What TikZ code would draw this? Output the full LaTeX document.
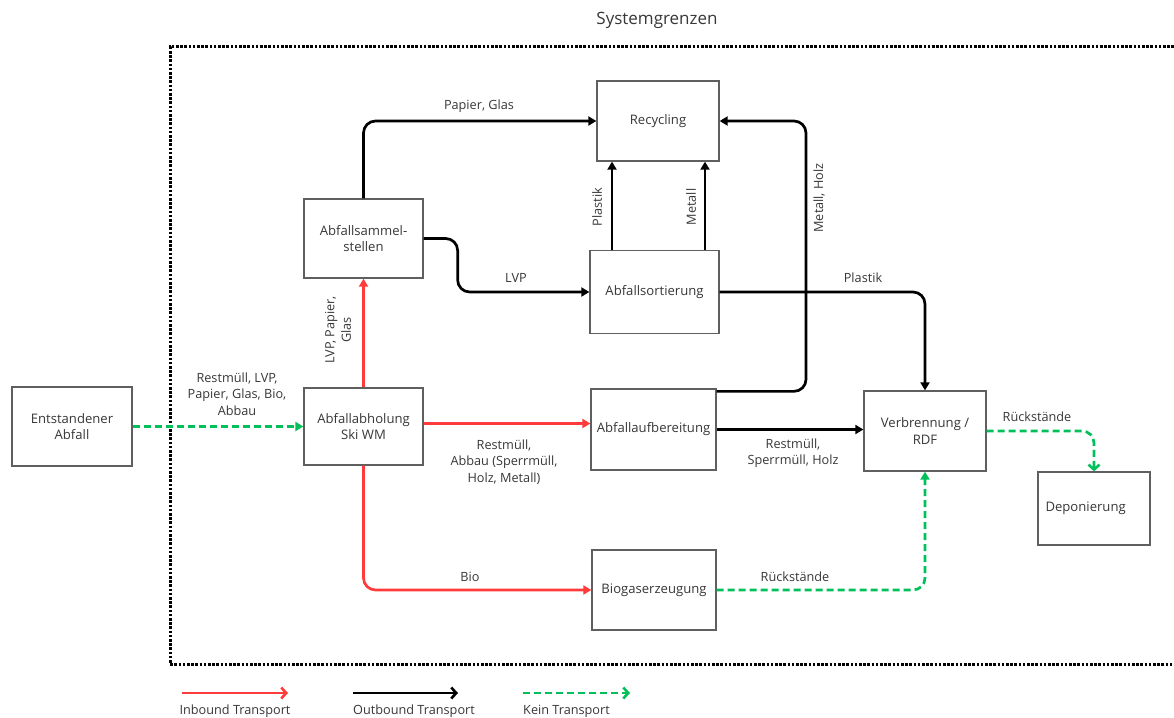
\documentclass[tikz,border=0pt]{standalone}
\usepackage{fontspec}
\setmainfont{Open Sans}
\usetikzlibrary{arrows.meta,calc}
\definecolor{inred}{RGB}{255,59,59}
\definecolor{kgreen}{RGB}{0,192,90}
\definecolor{txt}{RGB}{55,55,55}
\definecolor{boxline}{RGB}{95,95,95}
\tikzset{
  box/.style={draw=boxline, line width=1.3pt, fill=white, text=txt, align=center, inner sep=2pt, font=\fontsize{13.1}{16.5}\selectfont},
  lbl/.style={text=txt, align=center, inner sep=1pt, font=\fontsize{12.7}{16.5}\selectfont},
  inb/.style={draw=inred, line width=2.7pt, -{Triangle[length=8pt,width=9pt]}},
  outb/.style={draw=black, line width=2.7pt, -{Triangle[length=8pt,width=9pt]}},
  kein/.style={draw=kgreen, line width=2.7pt, dash pattern=on 7pt off 4pt, -{Triangle[length=8pt,width=9pt]}},
  barb/.style={-{Straight Barb[length=5pt,width=11pt,line width=2.6pt]}},
  border/.style={draw=black, line width=3pt, dash pattern=on 2.6pt off 1.6pt},
}
\begin{document}
\begin{tikzpicture}[x=1pt,y=-1pt]
\useasboundingbox (0,0) rectangle (1174,717);
% system boundary
\draw[border] (1174,47) -| (170,664) -- (1174,664);
\node[lbl, font=\fontsize{17}{20}\selectfont] (sys) at (657,20) {Systemgrenzen};
% boxes
\node[box, minimum width=120pt, minimum height=79pt] (ent) at (72,426.5) {Entstandener\\Abfall};
\node[box, minimum width=119pt, minimum height=77pt] (abh) at (363.5,426.5) {Abfallabholung\\Ski WM};
\node[box, minimum width=119pt, minimum height=79pt] (sam) at (363.5,238.5) {Abfallsammel-\\stellen};
\node[box, minimum width=122pt, minimum height=80pt] (rec) at (658,121) {Recycling};
\node[box, minimum width=129pt, minimum height=83pt] (sort) at (654.5,292) {Abfallsortierung};
\node[box, minimum width=125pt, minimum height=81pt] (aufb) at (653.5,429.5) {Abfallaufbereitung};
\node[box, minimum width=122pt, minimum height=80pt] (verb) at (925,431) {Verbrennung /\\RDF};
\node[box, minimum width=112pt, minimum height=73pt] (dep) at (1094,508.5) {};
\node[lbl, font=\fontsize{13.1}{16.5}\selectfont, anchor=west] (deptxt) at ([xshift=7pt]dep.west) {Deponierung};
\node[box, minimum width=124pt, minimum height=80pt] (bio) at (654,590) {Biogaserzeugung};
% connectors
\draw[kein] (ent) -- (abh);
\draw[inb] (abh) -- (sam);
\draw[inb] ([yshift=3pt]abh.east) -- ([yshift=3pt]abh.east -| aufb.west);
\draw[inb, rounded corners=12pt] (abh.south) |- (bio.west);
\draw[outb, rounded corners=12pt] (sam.north) |- (rec.west);
\draw[outb, rounded corners=12pt] (sam.east) -| ([xshift=34pt]sam.east |- sort.west) -- (sort.west);
\draw[outb] ([xshift=-42.5pt]sort.north) -- ([xshift=-42.5pt]sort.north |- rec.south);
\draw[outb] ([xshift=50.5pt]sort.north) -- ([xshift=50.5pt]sort.north |- rec.south);
\coordinate (mh) at (806,121);
\draw[outb, rounded corners=12pt] ([yshift=-3pt]aufb.north east) -| (mh) -- (rec.east);
\draw[outb, rounded corners=12pt] (sort.east) -| (verb.north);
\draw[outb] (aufb.east) -- (aufb.east -| verb.west);
\draw[kein, barb, rounded corners=12pt] (verb.east) -| (dep.north);
\draw[kein, rounded corners=12pt] (bio.east) -| (verb.south);
% labels
\node[lbl] (l1) at (479,106) {Papier, Glas};
\node[lbl] (l2) at (516,278) {LVP};
\node[lbl, rotate=90] (l3) at (338,330) {LVP, Papier,\\Glas};
\node[lbl, rotate=90] (l4) at (597,207) {Plastik};
\node[lbl, rotate=90] (l5) at (691,207) {Metall};
\node[lbl, rotate=90] (l6) at (819,198) {Metall, Holz};
\node[lbl] (l7) at (863,278) {Plastik};
\node[lbl] (l8) at (237,394) {Restmüll, LVP,\\Papier, Glas, Bio,\\Abbau};
\node[lbl] (l9) at (504,462) {Restmüll,\\Abbau (Sperrmüll,\\Holz, Metall)};
\node[lbl] (l10) at (793,453) {Restmüll,\\Sperrmüll, Holz};
\node[lbl] (l11) at (1037,417) {Rückstände};
\node[lbl] (l12) at (470,577) {Bio};
\node[lbl] (l13) at (795,577) {Rückstände};
% legend
\coordinate (a1) at (182,693); \coordinate (b1) at (288,693);
\coordinate (a2) at (353,693); \coordinate (b2) at (458,693);
\coordinate (a3) at (523,693); \coordinate (b3) at (630,693);
\draw[inb, line width=2.4pt, barb] (a1) -- (b1);
\draw[outb, line width=2.4pt, barb] (a2) -- (b2);
\draw[kein, line width=2.4pt, barb] (a3) -- (b3);
\node[lbl] (t1) at (235,711) {Inbound Transport};
\node[lbl] (t2) at (414,711) {Outbound Transport};
\node[lbl, anchor=west] (t3) at (522,711) {Kein Transport};
\end{tikzpicture}
\end{document}
